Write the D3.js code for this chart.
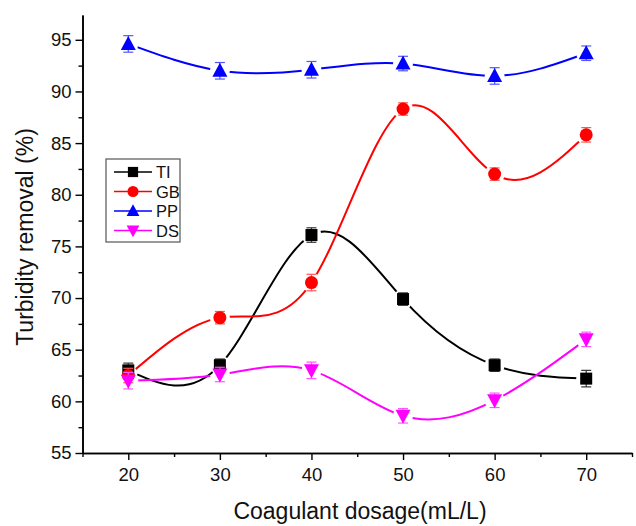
<!DOCTYPE html>
<html>
<head>
<meta charset="utf-8">
<script src="https://cdn.jsdelivr.net/npm/d3@7/dist/d3.min.js"></script>
<style>
  body { margin: 0; background: #fff; }
  text { font-family: "Liberation Sans", Arial, sans-serif; }
</style>
</head>
<body>
<div id="chart"></div>
<script>
// dosage (mL/L)
const dosage = [20, 30, 40, 50, 60, 70];

const tiValues = [63.0, 63.5, 76.1, 69.9, 63.5, 62.2];
const gbValues = [62.5, 68.1, 71.5, 88.3, 82.0, 85.8];
const ppValues = [94.6, 92.0, 92.1, 92.7, 91.5, 93.7];
const dsValues = [62.0, 62.6, 63.0, 58.6, 60.1, 66.0];

const tiErr = [0.7, 0.6, 0.7, 0.6, 0.6, 0.8];
const gbErr = [0.7, 0.6, 0.8, 0.6, 0.6, 0.7];
const ppErr = [0.8, 0.8, 0.8, 0.7, 0.8, 0.7];
const dsErr = [0.8, 0.7, 0.8, 0.7, 0.7, 0.7];

const seriesNames = ["TI", "GB", "PP", "DS"];
const xTicks = [20, 30, 40, 50, 60, 70];
const yTicks = [55, 60, 65, 70, 75, 80, 85, 90, 95];

const series = [
  {name: "TI", values: tiValues, err: tiErr, color: "#000000", errColor: "#333", shape: "square"},
  {name: "GB", values: gbValues, err: gbErr, color: "#ff0000", errColor: "#f55", shape: "circle"},
  {name: "PP", values: ppValues, err: ppErr, color: "#0000ff", errColor: "#55f", shape: "triangle"},
  {name: "DS", values: dsValues, err: dsErr, color: "#ff00ff", errColor: "#f5f", shape: "triangleDown"}
];

const width = 636, height = 526;
const svg = d3.select("#chart").append("svg")
  .attr("width", width).attr("height", height);

const x = d3.scaleLinear().domain([15, 75]).range([82.5, 632]);
const y = d3.scaleLinear().domain([55, 97.4]).range([453, 15]);

// axes
const xAxis = d3.axisBottom(x).tickValues(xTicks).tickSize(7).tickSizeOuter(0).tickPadding(8);
const xMinor = d3.axisBottom(x).tickValues(d3.range(15, 76, 5).filter(v => !xTicks.includes(v))).tickSize(4).tickFormat("").tickSizeOuter(0);
const yAxis = d3.axisLeft(y).tickValues(yTicks).tickSize(7).tickSizeOuter(0).tickPadding(4);
const yMinor = d3.axisLeft(y).tickValues(d3.range(57.5, 97.5, 5)).tickSize(4).tickFormat("").tickSizeOuter(0);

function styleAxis(g) {
  g.select(".domain").attr("stroke", "#000").attr("stroke-width", 1.6);
  g.selectAll(".tick line").attr("stroke", "#000").attr("stroke-width", 1.4);
  g.selectAll(".tick text").attr("font-size", 18.5).attr("fill", "#111")
    .style("font-family", "'Liberation Sans', Arial, sans-serif");
}

svg.append("g").attr("transform", `translate(0,${y(55)})`).call(xMinor).call(styleAxis);
svg.append("g").attr("transform", `translate(0,${y(55)})`).call(xAxis).call(styleAxis);
svg.append("g").attr("transform", `translate(${x(15)},0)`).call(yMinor).call(styleAxis);
svg.append("g").attr("transform", `translate(${x(15)},0)`).call(yAxis).call(styleAxis);

svg.append("text")
  .attr("x", 360).attr("y", 519)
  .attr("text-anchor", "middle")
  .attr("font-size", 23).attr("fill", "#111")
  .text("Coagulant dosage(mL/L)");

svg.append("text")
  .attr("transform", `translate(33,237) rotate(-90)`)
  .attr("text-anchor", "middle")
  .attr("font-size", 23).attr("fill", "#111")
  .text("Turbidity removal (%)");

const line = d3.line()
  .x((d, i) => x(dosage[i]))
  .y(d => y(d))
  .curve(d3.curveNatural);

function marker(g, shape, color) {
  if (shape === "square") {
    g.append("rect").attr("x", -6).attr("y", -6).attr("width", 12).attr("height", 12).attr("fill", color);
  } else if (shape === "circle") {
    g.append("circle").attr("r", 6.5).attr("fill", color);
  } else if (shape === "triangle") {
    g.append("path").attr("d", "M0,-8L7.5,6L-7.5,6Z").attr("fill", color);
  } else {
    g.append("path").attr("d", "M0,8L7.5,-6L-7.5,-6Z").attr("fill", color);
  }
}

// masks so each line stops short of its own markers
const defs = svg.append("defs");
series.forEach((s, k) => {
  const mask = defs.append("mask").attr("id", "gap" + k).attr("maskUnits", "userSpaceOnUse")
    .attr("x", 0).attr("y", 0).attr("width", width).attr("height", height);
  mask.append("rect").attr("width", width).attr("height", height).attr("fill", "#fff");
  s.values.forEach((v, i) => {
    mask.append("circle").attr("cx", x(dosage[i])).attr("cy", y(v)).attr("r", 10).attr("fill", "#000");
  });
});

series.forEach((s, k) => {
  svg.append("path")
    .datum(s.values)
    .attr("d", line)
    .attr("fill", "none")
    .attr("stroke", s.color)
    .attr("stroke-width", 2)
    .attr("mask", `url(#gap${k})`);
});

series.forEach(s => {
  const g = svg.append("g");
  s.values.forEach((v, i) => {
    const cx = x(dosage[i]);
    const eb = g.append("g").attr("stroke", s.errColor).attr("stroke-width", 1.2);
    eb.append("line").attr("x1", cx).attr("x2", cx).attr("y1", y(v + s.err[i])).attr("y2", y(v - s.err[i]));
    eb.append("line").attr("x1", cx - 5).attr("x2", cx + 5).attr("y1", y(v + s.err[i])).attr("y2", y(v + s.err[i]));
    eb.append("line").attr("x1", cx - 5).attr("x2", cx + 5).attr("y1", y(v - s.err[i])).attr("y2", y(v - s.err[i]));
    const m = g.append("g").attr("transform", `translate(${cx},${y(v)})`);
    marker(m, s.shape, s.color);
  });
});

// legend
const legend = svg.append("g").attr("transform", "translate(106,159)");
legend.append("rect").attr("width", 74).attr("height", 83)
  .attr("fill", "#fff").attr("stroke", "#555").attr("stroke-width", 1.2);
series.forEach((s, i) => {
  const ly = 13 + i * 19.5;
  const r = legend.append("g").attr("transform", `translate(0,${ly})`);
  r.append("line").attr("x1", 8).attr("x2", 46).attr("y1", 0).attr("y2", 0)
    .attr("stroke", s.color).attr("stroke-width", 1.6);
  const m = r.append("g").attr("transform", "translate(27,0) scale(0.85)");
  marker(m, s.shape, s.color);
  r.append("text").attr("x", 50).attr("y", 6).attr("font-size", 16.5).attr("fill", "#111").text(seriesNames[i]);
});
</script>
</body>
</html>
